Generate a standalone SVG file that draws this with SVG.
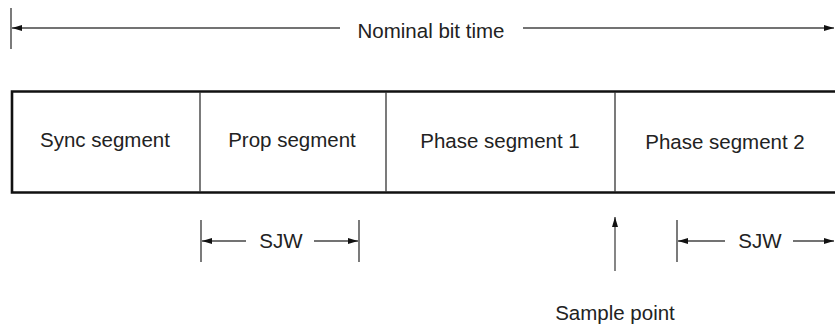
<svg xmlns="http://www.w3.org/2000/svg" width="835" height="328" viewBox="0 0 835 328">
<defs>
<marker id="ah" viewBox="0 0 10 6" refX="10" refY="3" markerWidth="10" markerHeight="6" markerUnits="userSpaceOnUse" orient="auto-start-reverse">
<path d="M0,0 L10,3 L0,6 Z" fill="#111"/>
</marker>
</defs>
<style>
text{font-family:"Liberation Sans",Arial,sans-serif;font-size:20.5px;fill:#222;}
.c{text-anchor:middle;}
.ln{stroke:#444;stroke-width:1.3;fill:none;}
.tk{stroke:#333;stroke-width:1.3;fill:none;}
.thick{stroke:#111;stroke-width:2.6;fill:none;}
.div{stroke:#333;stroke-width:1.3;fill:none;}
</style>
<rect width="835" height="328" fill="#fff"/>
<g id="connectors">
<line class="tk" x1="11" y1="8" x2="11" y2="49"/>
<line class="ln" x1="340" y1="28" x2="12" y2="28" marker-end="url(#ah)"/>
<line class="ln" x1="523" y1="28" x2="834" y2="28" marker-end="url(#ah)"/>
<line class="tk" x1="201" y1="220" x2="201" y2="262"/>
<line class="tk" x1="359" y1="220" x2="359" y2="262"/>
<line class="ln" x1="246" y1="241" x2="202" y2="241" marker-end="url(#ah)"/>
<line class="ln" x1="314" y1="241" x2="358" y2="241" marker-end="url(#ah)"/>
<line class="tk" x1="677" y1="220" x2="677" y2="262"/>
<line class="ln" x1="725" y1="241" x2="678" y2="241" marker-end="url(#ah)"/>
<line class="ln" x1="793" y1="241" x2="834" y2="241" marker-end="url(#ah)"/>
<line class="ln" x1="615" y1="271" x2="615" y2="217" marker-end="url(#ah)"/>
</g>
<g id="label-nominal"><text class="c" x="431" y="38">Nominal bit time</text></g>
<g id="frame">
<path class="thick" d="M835,91.5 H12 V192.5 H835"/>
</g>
<g id="sync"><text class="c" x="105" y="147">Sync segment</text></g>
<g id="prop"><line class="div" x1="200" y1="92" x2="200" y2="192"/><text class="c" x="292" y="147">Prop segment</text></g>
<g id="phase1"><line class="div" x1="386" y1="92" x2="386" y2="192"/><text class="c" x="500" y="148">Phase segment 1</text></g>
<g id="phase2"><line class="div" x1="615" y1="92" x2="615" y2="192"/><text class="c" x="725" y="149">Phase segment 2</text></g>
<g id="sjw1"><text class="c" x="281" y="248">SJW</text></g>
<g id="sjw2"><text class="c" x="760" y="248">SJW</text></g>
<g id="sample"><text class="c" x="615" y="320">Sample point</text></g>
</svg>
